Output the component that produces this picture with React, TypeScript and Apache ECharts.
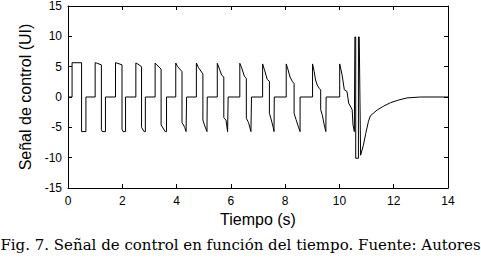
import React, { useEffect, useRef } from "react";
import * as echarts from "echarts";

const xTicks = [0, 2, 4, 6, 8, 10, 12, 14];
const yTicks = [-15, -10, -5, 0, 5, 10, 15];

const timeS = [
  0, 0.15, 0.15, 0.5, 0.5, 0.66, 0.66,
  1.0, 1.0, 1.05, 1.23, 1.23, 1.26, 1.38, 1.38,
  1.75, 1.75, 1.8, 1.99, 1.99, 2.03, 2.12, 2.12,
  2.5, 2.5, 2.55, 2.71, 2.71, 2.8, 2.85, 2.85,
  3.21, 3.21, 3.27, 3.43, 3.43, 3.58, 3.63, 3.63,
  3.97, 3.97, 4.04, 4.2, 4.2, 4.3, 4.35, 4.37, 4.37,
  4.73, 4.73, 4.8, 4.97, 4.97, 5.05, 5.12, 5.13, 5.13,
  5.5, 5.5, 5.58, 5.66, 5.74, 5.74, 5.82, 5.88, 5.9, 5.9,
  6.33, 6.33, 6.4, 6.5, 6.57, 6.57, 6.65, 6.74, 6.76, 6.76,
  7.17, 7.17, 7.25, 7.34, 7.42, 7.42, 7.48, 7.56, 7.59, 7.6,
  8.04, 8.04, 8.1, 8.18, 8.26, 8.33, 8.33, 8.4, 8.48, 8.55, 8.55,
  9.01, 9.01, 9.07, 9.12, 9.18, 9.26, 9.31, 9.31, 9.37, 9.44, 9.5, 9.51,
  10.01, 10.01, 10.1, 10.18, 10.28, 10.34, 10.47, 10.5, 10.55,
  10.57, 10.57, 10.6, 10.6, 10.7, 10.7, 10.73, 10.78,
  10.8, 10.88, 10.97, 11.07, 11.14, 11.39, 11.63, 11.88, 12.18, 12.49, 12.98, 14,
];

const signalUI = [
  0, 0, 5.65, 5.65, -5.7, -5.7, 0,
  0, 5.65, 5.6, 5.3, -5.4, -5.7, -5.7, 0,
  0, 5.65, 5.6, 5.3, -5.3, -5.7, -5.7, 0,
  0, 5.6, 5.5, 5.0, -5.0, -5.7, -5.7, 0,
  0, 5.6, 5.3, 4.6, -4.6, -5.7, -5.7, 0,
  0, 5.6, 5.0, 4.2, -4.2, -5.0, -5.7, -5.7, 0,
  0, 5.6, 4.9, 3.8, -3.8, -4.9, -5.7, -5.7, 0,
  0, 5.55, 4.6, 3.6, 3.3, -3.4, -3.8, -5.7, -5.7, 0,
  0, 5.55, 4.8, 3.4, 3.1, -3.5, -4.2, -5.7, -5.7, 0,
  0, 5.45, 4.3, 2.9, 2.6, -2.7, -3.6, -5.0, -5.7, 0,
  0, 5.45, 4.6, 3.3, 2.6, 2.2, -2.7, -3.7, -4.8, -5.7, 0,
  0, 5.45, 4.2, 2.8, 2.0, 1.4, 1.15, -2.1, -3.0, -4.6, -5.7, 0,
  0, 5.45, 3.6, 1.2, 0.9, -1.0, -2.1, -4.6, -5.7,
  -5.7, 9.9, 9.9, -10.1, -10.1, 9.9, 9.9, -9.6,
  -9.6, -8.0, -6.0, -4.0, -3.1, -2.14, -1.5, -0.94, -0.5, -0.15, 0, 0,
];

export default function App() {
  const ref = useRef<HTMLDivElement>(null);
  useEffect(() => {
    const chart = echarts.init(ref.current!, undefined, { renderer: "svg" });
    const axisFont = "Liberation Sans, Arial, sans-serif";
    const baseAxis = {
      axisLine: { show: true, onZero: false, lineStyle: { color: "#000", width: 1 } },
      axisTick: { show: true, inside: true, length: 4, lineStyle: { color: "#000" } },
      splitLine: { show: false },
    };
    chart.setOption({
      animation: false,
      backgroundColor: "#fff",
      grid: { left: 68, top: 6, width: 380, height: 182 },
      xAxis: [
        {
          ...baseAxis,
          type: "value",
          min: 0,
          max: 14,
          interval: 2,
          position: "bottom",
          axisLabel: {
            color: "#000",
            fontSize: 12,
            fontFamily: axisFont,
            margin: 7,
            formatter: (v: number) => (xTicks.includes(v) ? String(v) : ""),
          },
          name: "Tiempo (s)",
          nameLocation: "middle",
          nameGap: 22,
          nameTextStyle: { color: "#000", fontSize: 16, fontFamily: axisFont },
        },
        {
          ...baseAxis,
          type: "value",
          min: 0,
          max: 14,
          interval: 2,
          position: "top",
          axisLabel: { show: false },
        },
      ],
      yAxis: [
        {
          ...baseAxis,
          type: "value",
          min: -15,
          max: 15,
          interval: 5,
          position: "left",
          axisLabel: {
            color: "#000",
            fontSize: 12,
            fontFamily: axisFont,
            margin: 6,
            formatter: (v: number) => (yTicks.includes(v) ? String(v) : ""),
          },
          name: "Señal de control (UI)",
          nameLocation: "middle",
          nameGap: 27,
          nameTextStyle: { color: "#000", fontSize: 16, fontFamily: axisFont },
        },
        {
          ...baseAxis,
          type: "value",
          min: -15,
          max: 15,
          interval: 5,
          position: "right",
          axisLabel: { show: false },
        },
      ],
      series: [
        {
          type: "line",
          xAxisIndex: 0,
          yAxisIndex: 0,
          data: timeS.map((t, i) => [t, signalUI[i]]),
          showSymbol: false,
          symbol: "none",
          lineStyle: { color: "#000", width: 1 },
        },
      ],
      graphic: [
        {
          type: "text",
          left: "center",
          top: 237,
          style: {
            text: "Fig. 7. Señal de control en función del tiempo. Fuente: Autores",
            fill: "#000",
            fontSize: 15,
            fontFamily: "DejaVu Serif, serif",
          },
        },
      ],
    });
    return () => chart.dispose();
  }, []);
  return (
    <div
      ref={ref}
      style={{ position: "fixed", left: 0, top: 0, width: 481, height: 258 }}
    />
  );
}
